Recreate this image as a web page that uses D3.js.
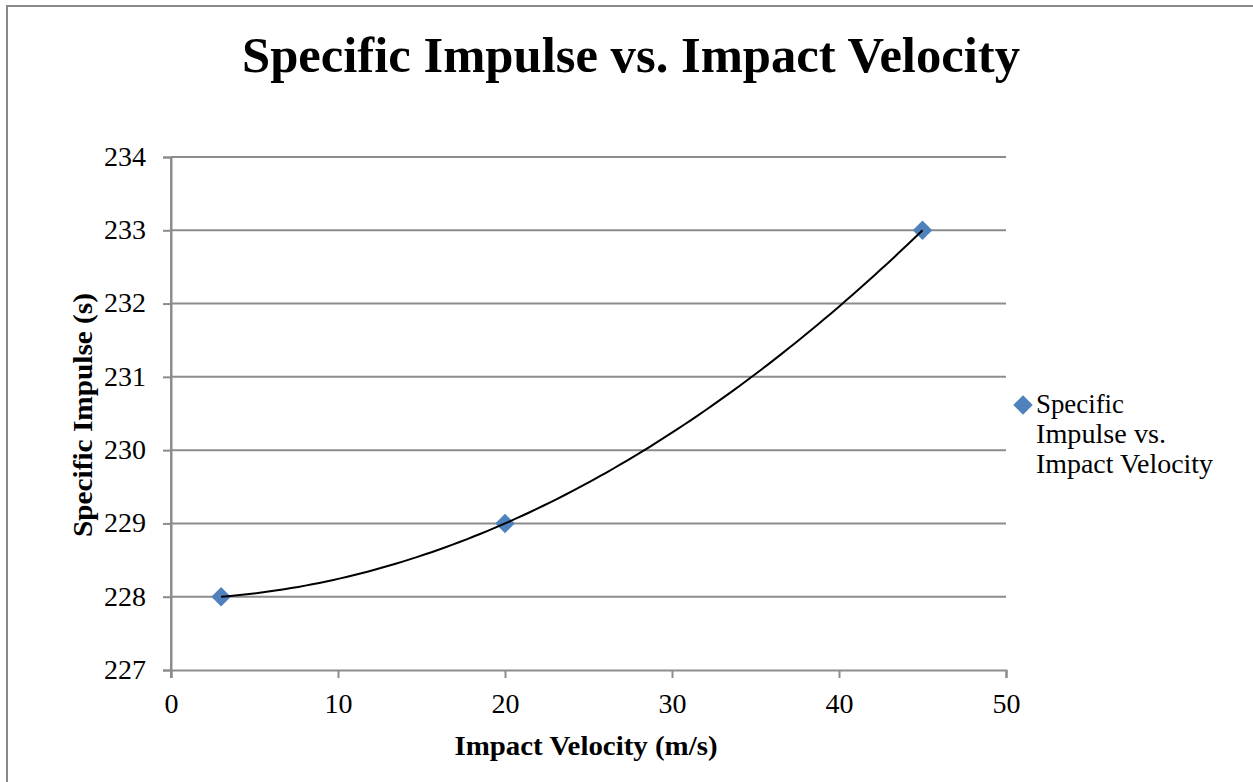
<!DOCTYPE html>
<html>
<head>
<meta charset="utf-8">
<script src="https://cdn.jsdelivr.net/npm/d3@7"></script>
<style>
  html, body { margin: 0; padding: 0; background: #fff; }
  svg { display: block; }
  text { font-family: "Liberation Serif", "DejaVu Serif", serif; fill: #000; }
</style>
</head>
<body>
<svg id="chart" width="1253" height="782"></svg>
<script>
// Measured impact velocities (m/s) and resulting specific impulse (s)
const velocity = [3, 20, 45];
const impulse = [228, 229, 233];

const xTicks = [0, 10, 20, 30, 40, 50];
const yTicks = [227, 228, 229, 230, 231, 232, 233, 234];

const chartTitle = "Specific Impulse vs. Impact Velocity";
const xTitle = "Impact Velocity (m/s)";
const yTitle = "Specific Impulse (s)";
const legendLines = ["Specific", "Impulse vs.", "Impact Velocity"];

const svg = d3.select("#chart");
const W = 1253, H = 782;
const plot = { left: 171, right: 1006, top: 157, bottom: 670 };
const gridColor = "#8c8c8c";
const markerColor = "#4f81bd";

// chart frame
svg.append("rect")
  .attr("x", 7).attr("y", 6)
  .attr("width", W + 10).attr("height", H + 10)
  .attr("fill", "#fff")
  .attr("stroke", "#8a8a8a").attr("stroke-width", 2);

const x = d3.scaleLinear().domain([0, 50]).range([plot.left, plot.right]);
const y = d3.scaleLinear().domain([227, 234]).range([plot.bottom, plot.top]);

// horizontal gridlines
svg.append("g").selectAll("line")
  .data(yTicks.filter(t => t !== 227))
  .join("line")
  .attr("x1", plot.left).attr("x2", plot.right)
  .attr("y1", d => y(d)).attr("y2", d => y(d))
  .attr("stroke", gridColor).attr("stroke-width", 2);

// y axis
const yAxis = svg.append("g")
  .attr("transform", `translate(${plot.left},0)`)
  .call(d3.axisLeft(y).tickValues(yTicks).tickSize(8).tickPadding(17).tickFormat(d3.format("d")));
yAxis.select(".domain").attr("stroke", gridColor).attr("stroke-width", 2);
yAxis.selectAll(".tick line").attr("stroke", gridColor).attr("stroke-width", 2);
yAxis.selectAll(".tick text")
  .style("font-size", "28px")
  .style("font-family", "'Liberation Serif', serif")
  .attr("dy", "0.3em");

// x axis
const xAxis = svg.append("g")
  .attr("transform", `translate(0,${plot.bottom})`)
  .call(d3.axisBottom(x).tickValues(xTicks).tickSize(8).tickPadding(15).tickFormat(d3.format("d")));
xAxis.select(".domain").attr("stroke", gridColor).attr("stroke-width", 2);
xAxis.selectAll(".tick line").attr("stroke", gridColor).attr("stroke-width", 2);
xAxis.selectAll(".tick text")
  .style("font-size", "28px")
  .style("font-family", "'Liberation Serif', serif");

// the y axis line reaches past the bottom axis like the tick marks
svg.append("line")
  .attr("x1", plot.left).attr("x2", plot.left)
  .attr("y1", plot.top).attr("y2", plot.bottom + 8)
  .attr("stroke", gridColor).attr("stroke-width", 2);

// second-order polynomial trendline fitted to the points (least squares)
function polyFit2(xs, ys) {
  const n = xs.length;
  let s = Array(5).fill(0), t = Array(3).fill(0);
  for (let i = 0; i < n; i++) {
    for (let k = 0; k < 5; k++) s[k] += Math.pow(xs[i], k);
    for (let k = 0; k < 3; k++) t[k] += ys[i] * Math.pow(xs[i], k);
  }
  const A = [[s[0], s[1], s[2], t[0]], [s[1], s[2], s[3], t[1]], [s[2], s[3], s[4], t[2]]];
  for (let c = 0; c < 3; c++) {
    let p = c;
    for (let r = c + 1; r < 3; r++) if (Math.abs(A[r][c]) > Math.abs(A[p][c])) p = r;
    [A[c], A[p]] = [A[p], A[c]];
    for (let r = 0; r < 3; r++) {
      if (r === c) continue;
      const f = A[r][c] / A[c][c];
      for (let k = c; k < 4; k++) A[r][k] -= f * A[c][k];
    }
  }
  return [A[0][3] / A[0][0], A[1][3] / A[1][1], A[2][3] / A[2][2]];
}

const coef = polyFit2(velocity, impulse);
const x0 = d3.min(velocity), x1 = d3.max(velocity);
const curvePts = d3.range(0, 101).map(i => {
  const v = x0 + (x1 - x0) * i / 100;
  return [v, coef[0] + coef[1] * v + coef[2] * v * v];
});

// markers
const diamond = d3.symbol().type(d3.symbolSquare).size(190);
svg.append("g").selectAll("path")
  .data(velocity.map((v, i) => [v, impulse[i]]))
  .join("path")
  .attr("d", diamond)
  .attr("transform", d => `translate(${x(d[0])},${y(d[1])}) rotate(45)`)
  .attr("fill", markerColor);

// trendline drawn over the markers
svg.append("path")
  .datum(curvePts)
  .attr("d", d3.line().x(d => x(d[0])).y(d => y(d[1])))
  .attr("fill", "none")
  .attr("stroke", "#000")
  .attr("stroke-width", 2);

// title
svg.append("text")
  .attr("x", 631).attr("y", 72)
  .attr("text-anchor", "middle")
  .attr("textLength", 778).attr("lengthAdjust", "spacingAndGlyphs")
  .style("font-size", "50px").style("font-weight", "bold")
  .text(chartTitle);

// axis titles
svg.append("text")
  .attr("x", 586).attr("y", 755)
  .attr("text-anchor", "middle")
  .attr("textLength", 263).attr("lengthAdjust", "spacingAndGlyphs")
  .style("font-size", "27px").style("font-weight", "bold")
  .text(xTitle);

svg.append("text")
  .attr("transform", "translate(92,415) rotate(-90)")
  .attr("text-anchor", "middle")
  .attr("textLength", 244).attr("lengthAdjust", "spacingAndGlyphs")
  .style("font-size", "27px").style("font-weight", "bold")
  .text(yTitle);

// legend
svg.append("path")
  .attr("d", diamond)
  .attr("transform", "translate(1023,405) rotate(45)")
  .attr("fill", markerColor);

const legendWidths = [88, 130, 177];
svg.append("g").selectAll("text")
  .data(legendLines)
  .join("text")
  .attr("x", 1036)
  .attr("y", (d, i) => 413 + i * 30)
  .attr("textLength", (d, i) => legendWidths[i])
  .attr("lengthAdjust", "spacingAndGlyphs")
  .style("font-size", "27px")
  .text(d => d);
</script>
</body>
</html>
